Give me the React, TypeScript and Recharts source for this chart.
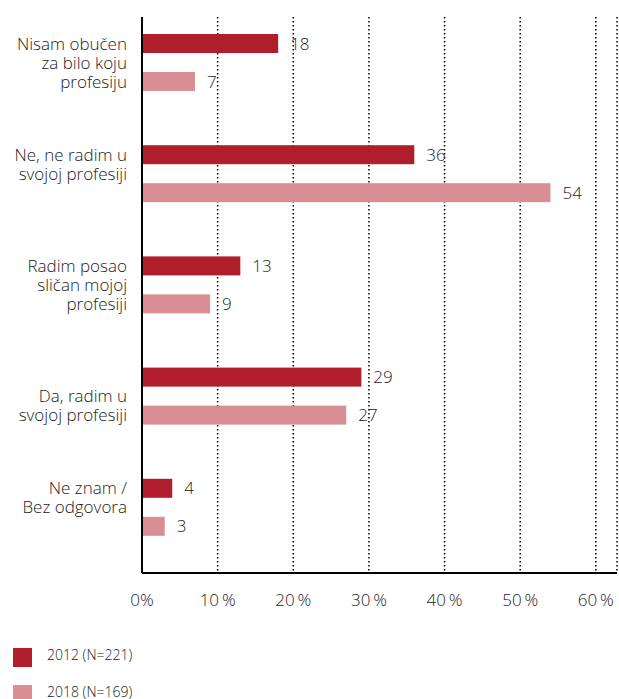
import React from 'react';
import {
  BarChart,
  Bar,
  XAxis,
  YAxis,
  CartesianGrid,
  LabelList,
} from 'recharts';

const categories = [
  'Nisam obučen\nza bilo koju\nprofesiju',
  'Ne, ne radim u\nsvojoj profesiji',
  'Radim posao\nsličan mojoj\nprofesiji',
  'Da, radim u\nsvojoj profesiji',
  'Ne znam /\nBez odgovora',
];
const values2012 = [18, 36, 13, 29, 4];
const values2018 = [7, 54, 9, 27, 3];
const xTicks = [0, 10, 20, 30, 40, 50, 60];
const seriesNames = ['2012 (N=221)', '2018 (N=169)'];

const RED = '#B01E2B';
const PINK = '#D88E93';
const TEXT = '#222';
const FONT = '"Open Sans", sans-serif';
const WEIGHT = 350;
const SHIFT = -10;
const LINE_H = 19;

const data = categories.map((c, i) => ({
  name: c,
  v2012: values2012[i],
  v2018: values2018[i],
}));

const ShiftedBar = (props: any) => {
  const { x, y, width, height, fill } = props;
  return <rect x={x} y={y + SHIFT} width={width} height={height} fill={fill} />;
};

const ValueLabel = (props: any) => {
  const { x, y, width, height, value } = props;
  return (
    <text
      x={x + width + 12}
      y={y + SHIFT + height / 2 + 6}
      fontSize={17}
      fontWeight={WEIGHT}
      fontFamily={FONT}
      fill={TEXT}
    >
      {value}
    </text>
  );
};

const CategoryTick = (props: any) => {
  const { x, y, payload } = props;
  const lines: string[] = String(payload.value).split('\n');
  const center = y + SHIFT;
  // first line sits next to the 2012 bar, except the label that hugs the 2018 bar
  const alignBottom = payload.index === 3;
  const first = alignBottom ? center + LINE_H - (lines.length - 1) * LINE_H : center - LINE_H;
  return (
    <text x={x} textAnchor="end" fontSize={17} fontWeight={WEIGHT} fontFamily={FONT} fill={TEXT}>
      {lines.map((l, i) => (
        <tspan key={i} x={x} y={first + i * LINE_H + 6}>
          {l}
        </tspan>
      ))}
    </text>
  );
};

const App = () => {
  return (
    <div style={{ position: 'absolute', left: 0, top: 0, width: 619, height: 699 }}>
      <BarChart
        width={619}
        height={699}
        data={data}
        layout="vertical"
        barSize={19}
        barGap={19}
        margin={{ top: 17, right: 2, left: 0, bottom: 66 }}
      >
        <CartesianGrid
          horizontal={false}
          stroke="#000"
          strokeWidth={1.5}
          strokeDasharray="1.5 2.5"
        />
        <XAxis
          type="number"
          domain={[0, 62.8]}
          ticks={xTicks}
          height={60}
          tickLine={false}
          tickSize={0}
          tickMargin={21}
          axisLine={{ stroke: '#000', strokeWidth: 2 }}
          tick={{ fontSize: 17, fill: TEXT, fontFamily: FONT, fontWeight: WEIGHT }}
          tickFormatter={(v: number) => (v === 0 ? '0%' : `${v}\u2009%`)}
        />
        <YAxis
          type="category"
          dataKey="name"
          width={142}
          tickLine={false}
          tickSize={0}
          tickMargin={15}
          axisLine={{ stroke: '#000', strokeWidth: 2 }}
          tick={<CategoryTick />}
          interval={0}
        />
        <Bar dataKey="v2012" fill={RED} shape={<ShiftedBar />} isAnimationActive={false}>
          <LabelList dataKey="v2012" content={<ValueLabel />} />
        </Bar>
        <Bar dataKey="v2018" fill={PINK} shape={<ShiftedBar />} isAnimationActive={false}>
          <LabelList dataKey="v2018" content={<ValueLabel />} />
        </Bar>
      </BarChart>

      {/* Legend */}
      <div style={{ position: 'absolute', left: 13, top: 648, fontFamily: FONT }}>
        {seriesNames.map((n, i) => (
          <div
            key={n}
            style={{ display: 'flex', alignItems: 'center', height: 19, marginBottom: 18 }}
          >
            <div style={{ width: 19, height: 19, backgroundColor: i === 0 ? RED : PINK }} />
            <span
              style={{
                marginLeft: 15,
                fontSize: 14,
                fontWeight: WEIGHT,
                color: TEXT,
                lineHeight: '19px',
                position: 'relative',
                top: -3,
              }}
            >
              {n}
            </span>
          </div>
        ))}
      </div>
    </div>
  );
};

export default App;
